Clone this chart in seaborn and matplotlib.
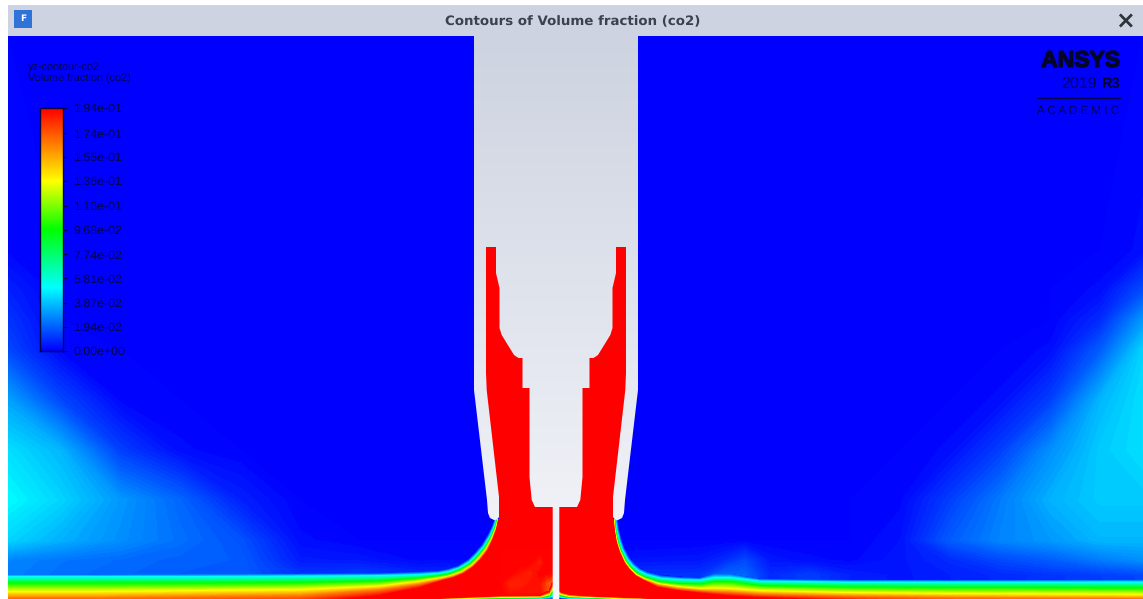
import numpy as np
import seaborn as sns
import matplotlib.pyplot as plt
import matplotlib.patheffects as pe
from matplotlib.colors import LinearSegmentedColormap
from matplotlib.patches import Polygon, Rectangle

# Values, positions in screen pixels of the Fluent window
VMAX = 0.194
legend_values = [0.194, 0.174, 0.155, 0.136, 0.116, 0.0968, 0.0774, 0.0581, 0.0387, 0.0194, 0.0]
legend_labels = ['1.94e-01', '1.74e-01', '1.55e-01', '1.36e-01', '1.16e-01', '9.68e-02',
                 '7.74e-02', '5.81e-02', '3.87e-02', '1.94e-02', '0.00e+00']

# far field CO2 (the two plumes at the sides)
bg_x = [8, 60, 120, 180, 240, 300, 360, 420, 700, 725, 745, 770, 810, 850, 900, 950, 1000, 1050, 1100, 1143]
bg_y = [36, 250, 290, 320, 350, 400, 450, 500, 540, 560, 575, 590]
bg_values = [
    [0, 0, 0, 0, 0, 0, 0, 0, 0, 0, 0, 0, 0, 0, 0, 0, 0, 0, 0, 0],
    [.001, 0, 0, 0, 0, 0, 0, 0, 0, 0, 0, 0, 0, 0, 0, 0, 0, 0, 0, .002],
    [.006, 0, 0, 0, 0, 0, 0, 0, 0, 0, 0, 0, 0, 0, 0, 0, 0, 0, .002, .015],
    [.010, 0, 0, 0, 0, 0, 0, 0, 0, 0, 0, 0, 0, 0, 0, 0, 0, 0, .008, .030],
    [.014, .001, 0, 0, 0, 0, 0, 0, 0, 0, 0, 0, 0, 0, 0, 0, 0, .002, .018, .042],
    [.032, .014, .001, 0, 0, 0, 0, 0, 0, 0, 0, 0, 0, 0, 0, 0, .002, .012, .036, .044],
    [.044, .036, .012, .002, 0, 0, 0, 0, 0, 0, 0, 0, 0, 0, 0, .002, .012, .028, .040, .044],
    [.050, .042, .030, .020, .006, 0, 0, 0, 0, 0, 0, 0, 0, 0, .001, .012, .024, .035, .040, .040],
    [.042, .035, .028, .022, .016, .002, 0, 0, 0, 0, 0, 0, 0, 0, .003, .018, .026, .030, .036, .036],
    [.026, .023, .021, .019, .018, .005, .004, .001, .004, .008, .014, .004, .002, .001, .004, .008, .014, .018, .024, .028],
    [.025, .022, .020, .018, .018, .010, .012, .008, .010, .020, .020, .008, .012, .006, .004, .006, .008, .010, .012, .014],
    [.025, .022, .020, .018, .018, .010, .012, .008, .010, .020, .020, .008, .012, .006, .004, .006, .008, .010, .012, .014],
]

# jet along the plate, isolines left of the nozzle
left_outer_x = [8, 100, 200, 300, 380, 420, 438, 448, 458, 468, 475, 482, 488, 492, 495]
left_outer_y = [575, 575, 574.5, 574, 573.5, 572, 571, 569, 566, 560, 553, 545, 535, 527, 519]
left_outer_v = [.025, .022, .018, .012, .010, .006, .002, 0, 0, 0, 0, 0, 0, 0, 0]
left_cyan_x = [8, 100, 200, 300, 380, 420, 440, 450, 460, 470, 477, 484, 490, 494, 497]
left_cyan_y = [577, 577, 577, 576.5, 576, 575, 573.5, 571.5, 568, 562, 555, 547, 537, 528, 519]
left_green_x = [8, 100, 200, 300, 380, 420, 441, 451, 461, 471, 478, 485, 491, 495, 497.7]
left_green_y = [583.5, 583.5, 583.5, 583, 581.5, 578.5, 576, 574, 570, 564, 557, 548.5, 538, 528.5, 519]
left_yellow_x = [8, 100, 200, 300, 380, 420, 442, 452, 462, 472, 479, 486, 492, 496, 498.3]
left_yellow_y = [592, 592, 591, 590, 586.5, 581.5, 578, 575.5, 572, 565.5, 558.5, 549.5, 539, 529, 519]
left_orange_x = [8, 100, 200, 300, 380, 420, 443, 453, 463, 473, 480, 487, 492.6, 496.5, 498.7]
left_orange_y = [598, 598, 597, 596, 590, 584.5, 579.5, 577, 573, 566.5, 559.5, 550.5, 539.5, 529, 519]
left_red_x = [8, 100, 200, 300, 380, 420, 444, 454, 464, 474, 481, 488, 493, 497, 499]
left_red_y = [607, 606, 605, 604, 596, 588, 580.5, 578, 574, 567, 560, 551, 540, 529, 519]

# same isolines right of the nozzle
right_outer_x = [617, 618.5, 621, 624, 629, 634, 640, 648, 662, 682, 700, 715, 730, 760, 850, 950, 1050, 1143]
right_outer_y = [519, 529, 539.5, 548, 557.5, 563.5, 568.5, 572, 575.5, 577, 578, 574, 574, 579, 580, 580, 580, 580]
right_outer_v = [0, 0, 0, 0, 0, 0, 0, 0, .001, .002, .006, .016, .015, .007, .006, .004, .008, .014]
right_cyan_x = [615, 616.5, 619, 622, 627, 632, 638, 646, 660, 680, 700, 715, 730, 760, 850, 950, 1050, 1143]
right_cyan_y = [519, 530, 541, 550, 560, 566, 571, 575, 578.5, 580, 580.5, 578, 578, 581.5, 582.5, 582.5, 582.5, 582.5]
right_green_x = [614.3, 615.3, 617.5, 620.5, 625.5, 630.5, 636.5, 644.5, 658.5, 678, 700, 715, 730, 760, 850, 950, 1050, 1143]
right_green_y = [519, 530, 541.5, 551, 561.5, 568, 573.5, 577.5, 582, 584, 584.5, 582, 582, 586, 587.5, 588, 588, 588.5]
right_yellow_x = [613.7, 614.7, 616.8, 620, 625, 630, 636, 644, 658, 678, 700, 715, 730, 760, 850, 950, 1050, 1143]
right_yellow_y = [519, 530, 542, 551.5, 562.5, 569, 575, 579, 584, 587, 589, 588.5, 589, 591, 593, 594, 594.5, 595]
right_orange_x = [613.3, 614.3, 616.3, 619.5, 624.5, 629.5, 635.5, 643.5, 657.5, 677.5, 700, 715, 730, 760, 850, 950, 1050, 1143]
right_orange_y = [519, 530, 542, 552, 563, 569.5, 575.5, 580, 585.5, 589, 591, 592, 592.5, 594.5, 596.5, 598, 598.5, 599]
right_red_x = [613, 614, 616, 619, 624, 629, 635, 643, 657, 677, 700, 715, 730, 760, 850, 950, 1050, 1143]
right_red_y = [519, 530, 542, 552, 563, 570, 576, 580.5, 587.5, 591, 593.5, 595, 596.5, 598, 601, 604, 606, 607]

# thin band on the plate under the jet
plate_left_x = [400, 450, 500, 540, 549, 552.7]
plate_left_red = [600, 597.5, 595.5, 595, 591, 582]
plate_left_orange = [601, 598, 596.2, 595.8, 592.5, 585]
plate_left_yellow = [602, 598.5, 597, 596.6, 594, 588]
plate_left_green = [603, 599, 598, 597.4, 595.5, 591]
plate_left_cyan = [604, 600.5, 599.5, 598.2, 597, 595]
plate_left_blue = [605, 602, 601, 599.2, 599, 599]
plate_right_x = [559, 562, 570, 585, 610, 640, 680]
plate_right_red = [590, 592, 594, 595.5, 596.5, 597.5, 600]
plate_right_orange = [591, 593, 595, 596, 597, 598, 601]
plate_right_yellow = [592.5, 594, 596, 596.8, 597.8, 599, 602]
plate_right_green = [594, 595.5, 597, 597.5, 598.5, 600, 603]
plate_right_cyan = [596, 597, 598, 598.3, 599.2, 601, 604]
plate_right_blue = [598, 598.5, 599, 599.5, 600, 602, 605]

# orange streaks inside the red core
core_x = [499, 510, 520, 530, 540, 546, 552.7]
core_y = [550, 563, 573, 583, 592, 599]
core_values = [
    [.194, .194, .194, .194, .194, .194, .194],
    [.194, .194, .194, .194, .186, .194, .194],
    [.194, .194, .190, .186, .194, .194, .194],
    [.194, .186, .186, .190, .190, .178, .170],
    [.194, .190, .190, .190, .190, .180, .170],
    [.194, .194, .194, .194, .194, .194, .194],
]

# nozzle outline, left half, mirrored about nozzle_axis
nozzle_axis = 556
shell_x = [474, 474, 487, 488, 490, 495, 498, 499]
shell_y = [36, 390, 500, 513, 518, 520.5, 518.5, 517]
annulus_x = [499, 499, 486.7, 486, 486]
annulus_y = [517, 497, 390, 373, 247]
body_x = [496, 496, 499.5, 499.5, 501.7, 514, 518.5, 522.5, 522.5, 529.5, 529.5,
          531.7, 535, 552.7, 552.7]
body_y = [247, 273, 288, 328, 335, 355, 358, 358, 388, 388, 477, 500, 507, 507, 600]

iso_values = [.0504, .097, .136, .165, VMAX]
grey_stops = ['#cdd3e0', '#f6f7fb']
field_stops = [(0, '#0000ff'), (.26, '#00ffff'), (.5, '#00ff00'), (.7, '#ffff00'), (1, '#ff0000')]


def mirror(xs):
    return [2 * nozzle_axis - x for x in xs]


def iso_rows(first, n):
    # first row is the local background, the others sit on the isoline values
    return np.vstack([first] + [np.full(n, v) for v in iso_values])


sns.set_theme(style='white')
plt.rcParams['text.hinting'] = 'no_hinting'
fig = plt.figure(figsize=(11.43, 5.99), dpi=100)
ax = fig.add_axes([0, 0, 1, 1])
ax.set_xlim(0, 1143)
ax.set_ylim(599, 0)
ax.axis('off')

cmap = LinearSegmentedColormap.from_list('fluent', field_stops, N=512)
levels = np.linspace(0, VMAX, 129)
cf = dict(levels=levels, cmap=cmap, extend='both')

# window
ax.add_patch(Rectangle((8, 5), 1135, 31, fc='#cdd3e0', ec='none', zorder=0))
ax.add_patch(Rectangle((8, 36), 1135, 563, fc='#0000ff', ec='none', zorder=0))

# far field
ax.contourf(bg_x, bg_y, np.array(bg_values), zorder=1, **cf)

# jet on both sides
X = np.array([left_outer_x, left_cyan_x, left_green_x, left_yellow_x, left_orange_x, left_red_x], dtype=float)
Y = np.array([left_outer_y, left_cyan_y, left_green_y, left_yellow_y, left_orange_y, left_red_y], dtype=float)
ax.contourf(X, Y, iso_rows(left_outer_v, X.shape[1]), zorder=2, **cf)
X = np.array([right_outer_x, right_cyan_x, right_green_x, right_yellow_x, right_orange_x, right_red_x], dtype=float)
Y = np.array([right_outer_y, right_cyan_y, right_green_y, right_yellow_y, right_orange_y, right_red_y], dtype=float)
ax.contourf(X, Y, iso_rows(right_outer_v, X.shape[1]), zorder=2, **cf)

# grey shell behind the annulus
gradient = LinearSegmentedColormap.from_list('grey', grey_stops)
ramp = np.linspace(0, 1, 256).reshape(-1, 1)
shell_pts = list(zip(shell_x + mirror(shell_x)[::-1], shell_y + shell_y[::-1]))
shell = Polygon(shell_pts, transform=ax.transData, fc='none', ec='none')
ax.add_patch(shell)
im = ax.imshow(ramp, cmap=gradient, extent=(474, 639, 599, 36), aspect='auto', zorder=3)
im.set_clip_path(shell)

# red annulus and core
red_pts = list(zip(annulus_x[::-1] + left_red_x[::-1], annulus_y[::-1] + left_red_y[::-1]))
red_pts += [(8, 610), (1143, 610)]
red_pts += list(zip(right_red_x[::-1] + mirror(annulus_x), right_red_y[::-1] + annulus_y))
ax.add_patch(Polygon(red_pts, fc='#ff0000', ec='none', zorder=4))
ax.contourf(core_x, core_y, np.array(core_values), zorder=5, **cf)

# plate band
X = np.tile(plate_left_x, (6, 1))
Y = np.array([plate_left_blue, plate_left_cyan, plate_left_green,
              plate_left_yellow, plate_left_orange, plate_left_red], dtype=float)[::-1]
Z = iso_rows(np.zeros(X.shape[1]), X.shape[1])[::-1]
ax.contourf(X, Y, Z, zorder=6, **cf)
X = np.tile(plate_right_x, (6, 1))
Y = np.array([plate_right_blue, plate_right_cyan, plate_right_green,
              plate_right_yellow, plate_right_orange, plate_right_red], dtype=float)[::-1]
Z = iso_rows(np.zeros(X.shape[1]), X.shape[1])[::-1]
ax.contourf(X, Y, Z, zorder=6, **cf)

# inner body with the centre slot
body_pts = list(zip(body_x + mirror(body_x)[::-1], body_y + body_y[::-1]))
body = Polygon(body_pts, transform=ax.transData, fc='none', ec='none')
ax.add_patch(body)
im = ax.imshow(ramp, cmap=gradient, extent=(474, 639, 599, 36), aspect='auto', zorder=7)
im.set_clip_path(body)
ax.set_xlim(0, 1143)
ax.set_ylim(599, 0)

# title bar
ax.text(573, 21.5, 'Contours of Volume fraction (co2)', ha='center', va='center', fontsize=9.6,
        fontweight='bold', family='DejaVu Sans', color='#3a4150', zorder=9)
ax.text(1125, 21.5, '\u00d7', ha='center', va='center', fontsize=17, fontweight='bold',
        family='DejaVu Sans', color='#2f3338', zorder=9)
ax.add_patch(Rectangle((14, 10), 18, 18, fc='#2f72d8', ec='none', zorder=9))
ax.text(23, 19, 'F', ha='center', va='center', fontsize=6.5, fontweight='bold',
        family='DejaVu Sans', color='white', zorder=10)

# logo
ansys = ax.text(1120, 61, 'ANSYS', ha='right', va='center', fontsize=16.5, fontweight='bold',
                family='Liberation Sans', color='#05052a', zorder=9)
ansys.set_path_effects([pe.withStroke(linewidth=1.0, foreground='#05052a')])
ax.text(1097, 84, '2019', ha='right', va='center', fontsize=11.5,
        family='Liberation Sans', color='#05054a', zorder=9)
ax.text(1120, 84, 'R3', ha='right', va='center', fontsize=10.5, fontweight='bold',
        family='Liberation Sans', color='#05052a', zorder=9)
ax.plot([1037, 1120], [98, 98], color='#05054a', lw=0.9, zorder=9)
ax.text(1078.5, 111, 'A C A D E M I C', ha='center', va='center', fontsize=8.4,
        family='Liberation Sans', color='#05054a', zorder=9)

# legend
ax.text(28, 67, 'yz-contour-co2', ha='left', va='center', fontsize=7.8,
        family='Liberation Sans', color='#05054a', zorder=9)
ax.text(28, 79, 'Volume fraction (co2)', ha='left', va='center', fontsize=7.8,
        family='Liberation Sans', color='#05054a', zorder=9)

cax = fig.add_axes([40 / 1143, 1 - 351 / 599, 23 / 1143, 243 / 599])
strip = np.linspace(VMAX, 0, 243).reshape(-1, 1)
sns.heatmap(strip, ax=cax, cmap=cmap, vmin=0, vmax=VMAX, cbar=False, xticklabels=False)
cax.set_yticks([(VMAX - v) / VMAX * 243 for v in legend_values])
cax.set_yticklabels(legend_labels, fontsize=8.9, family='Liberation Sans', color='#05054a', rotation=0)
cax.yaxis.tick_right()
cax.tick_params(axis='y', length=3, width=0.8, color='#05054a', pad=4.5, right=True)
for side in cax.spines.values():
    side.set_visible(True)
    side.set_color('#05053a')
    side.set_linewidth(1.0)

fig.savefig('out.png', dpi=100)
